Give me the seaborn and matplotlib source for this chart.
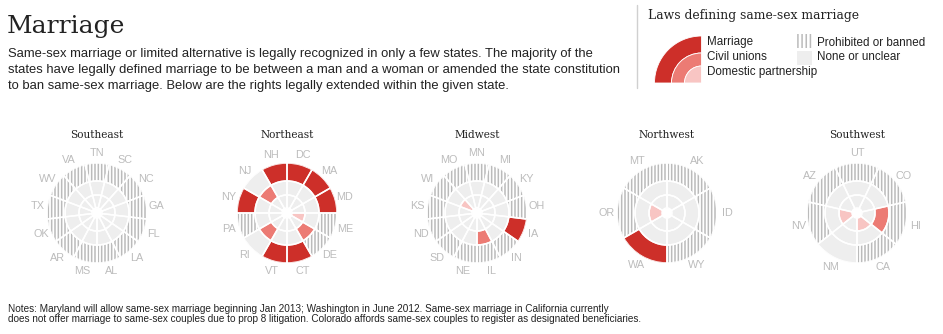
import numpy as np
import pandas as pd
import matplotlib
matplotlib.use("Agg")
import matplotlib.pyplot as plt
from matplotlib.patches import Wedge, Rectangle
import seaborn as sns

# ---------------- data ----------------
regions = ["Southeast", "Northeast", "Midwest", "Northwest", "Southwest"]

se_states = ["TN", "SC", "NC", "GA", "FL", "LA", "AL", "MS", "AR", "OK", "TX", "WV", "VA"]
se_outer = ["P", "P", "P", "P", "P", "P", "P", "P", "P", "P", "P", "P", "P"]
se_civil = []
se_domestic = []

ne_states = ["DC", "MA", "MD", "ME", "DE", "CT", "VT", "RI", "PA", "NY", "NJ", "NH"]
ne_outer = ["M", "M", "M", "P", "P", "M", "M", "N", "P", "M", "N", "M"]
ne_civil = ["DE", "RI", "NJ"]
ne_domestic = ["ME"]

mw_states = ["MN", "MI", "KY", "OH", "IA", "IN", "IL", "NE", "SD", "ND", "KS", "WI", "MO"]
mw_outer = ["P", "P", "P", "P", "M", "P", "P", "P", "P", "P", "P", "P", "P"]
mw_civil = ["IL"]
mw_domestic = ["WI"]

nw_states = ["AK", "ID", "WY", "WA", "OR", "MT"]
nw_outer = ["P", "P", "P", "M", "P", "P"]
nw_civil = []
nw_domestic = ["OR"]

sw_states = ["UT", "CO", "HI", "CA", "NM", "NV", "AZ"]
sw_outer = ["P", "P", "P", "P", "N", "P", "P"]
sw_civil = ["HI"]
sw_domestic = ["CA", "NV"]

title = "Marriage"
intro_lines = [
    "Same-sex marriage or limited alternative is legally recognized in only a few states. The majority of the",
    "states have legally defined marriage to be between a man and a woman or amended the state constitution",
    "to ban same-sex marriage. Below are the rights legally extended within the given state.",
]
note_lines = [
    "Notes: Maryland will allow same-sex marriage beginning Jan 2013; Washington in June 2012. Same-sex marriage in California currently",
    "does not offer marriage to same-sex couples due to prop 8 litigation. Colorado affords same-sex couples to register as designated beneficiaries.",
]
legend_title = "Laws defining same-sex marriage"
legend_left = ["Marriage", "Civil unions", "Domestic partnership"]
legend_right = ["Prohibited or banned", "None or unclear"]

# ---------------- style ----------------
sns.set_style("white")
plt.rcParams["font.family"] = ["Liberation Sans", "DejaVu Sans"]
plt.rcParams["hatch.linewidth"] = 1.1

RED, SALMON, PINK = "#cd2f29", "#ec7b74", "#f8c5c3"
LIGHT, HATCH, LABEL, TEXT = "#eeeeee", "#bbbbbb", "#bcbcbc", "#222222"
SERIF = ["DejaVu Serif"]

W, H = 943, 334
fig = plt.figure(figsize=(W / 100, H / 100), dpi=100)

region_data = [
    (se_states, se_outer, se_civil, se_domestic),
    (ne_states, ne_outer, ne_civil, ne_domestic),
    (mw_states, mw_outer, mw_civil, mw_domestic),
    (nw_states, nw_outer, nw_civil, nw_domestic),
    (sw_states, sw_outer, sw_civil, sw_domestic),
]

centers_x = [97, 287, 477, 667, 857]
cy = 213
R = 50
HOLE, R1, R2 = 5, 18, 32

overlay = fig.add_axes([0, 0, 1, 1])
overlay.set_xlim(0, W)
overlay.set_ylim(H, 0)
overlay.axis("off")

for name, cx, (states, outer, civil, domestic) in zip(regions, centers_x, region_data):
    n = len(states)
    w = 2 * np.pi / n
    shift = 0.5 if n % 2 == 0 else 0.0
    df = pd.DataFrame({"state": states, "outer": outer})
    df["theta"] = (np.arange(n) + shift) * w
    df["civil"] = df["state"].isin(civil)
    df["domestic"] = df["state"].isin(domestic)

    ax = fig.add_axes([(cx - R) / W, 1 - (cy + R) / H, 2 * R / W, 2 * R / H],
                      projection="polar")
    ax.set_theta_zero_location("N")
    ax.set_theta_direction(-1)
    ax.set_ylim(0, R)
    ax.axis("off")

    # inner ring: domestic partnership
    ax.bar(df["theta"], R1 - HOLE, width=w, bottom=HOLE,
           color=[PINK if d else LIGHT for d in df["domestic"]], linewidth=0)
    # middle ring: civil unions
    ax.bar(df["theta"], R2 - R1, width=w, bottom=R1,
           color=[SALMON if c else LIGHT for c in df["civil"]], linewidth=0)
    # outer ring: marriage / none
    solid = df[df["outer"] != "P"]
    ax.bar(solid["theta"], R - R2, width=w, bottom=R2,
           color=[RED if o == "M" else LIGHT for o in solid["outer"]], linewidth=0)
    # outer ring: prohibited (hatched)
    hat = df[df["outer"] == "P"]
    if len(hat):
        ax.bar(hat["theta"], R - R2, width=w, bottom=R2, facecolor="white",
               edgecolor=HATCH, linewidth=0, hatch="|||||")
    # white separators
    for b, h in [(HOLE, R1 - HOLE), (R1, R2 - R1), (R2, R - R2)]:
        ax.bar(df["theta"], h, width=w, bottom=b, facecolor="none",
               edgecolor="white", linewidth=1.1)

    for t, s in zip(df["theta"], df["state"]):
        ax.text(t, 60, s, ha="center", va="center", color=LABEL, fontsize=7.8,
                clip_on=False)

    overlay.text(cx, 138, name, ha="center", va="baseline", color=TEXT,
                 fontsize=7.6, family=SERIF)

# ---------------- header text ----------------
overlay.text(7, 33, title, ha="left", va="baseline", color=TEXT, fontsize=18,
             family=SERIF)
for i, line in enumerate(intro_lines):
    overlay.text(8, 56.5 + 16.5 * i, line, ha="left", va="baseline", color=TEXT,
                 fontsize=9.4)
for i, line in enumerate(note_lines):
    overlay.text(8, 312 + 9.5 * i, line, ha="left", va="baseline", color=TEXT,
                 fontsize=7.2)

# ---------------- legend ----------------
overlay.plot([637, 637], [5, 88], color="#d0d0d0", lw=1)
overlay.text(648, 19.5, legend_title, ha="left", va="baseline", color=TEXT,
             fontsize=8.95, family=SERIF)
lc = (701.5, 83)
overlay.add_patch(Wedge(lc, 47, 180, 270, width=17, facecolor=RED, edgecolor="white", lw=0.6))
overlay.add_patch(Wedge(lc, 30, 180, 270, width=13, facecolor=SALMON, edgecolor="white", lw=0.6))
overlay.add_patch(Wedge(lc, 17, 180, 270, facecolor=PINK, edgecolor="white", lw=0.6))
for i, s in enumerate(legend_left):
    overlay.text(707, 45.5 + 15 * i, s, ha="left", va="baseline", color=TEXT, fontsize=8.4)
overlay.add_patch(Rectangle((797, 34), 15, 14, facecolor="white", edgecolor=HATCH,
                            lw=0, hatch="||||"))
overlay.add_patch(Rectangle((797, 51), 15, 13.5, facecolor=LIGHT, lw=0))
for i, s in enumerate(legend_right):
    overlay.text(817, 45.5 + 15 * i, s, ha="left", va="baseline", color=TEXT, fontsize=8.4)

fig.savefig("out.png", dpi=100)
